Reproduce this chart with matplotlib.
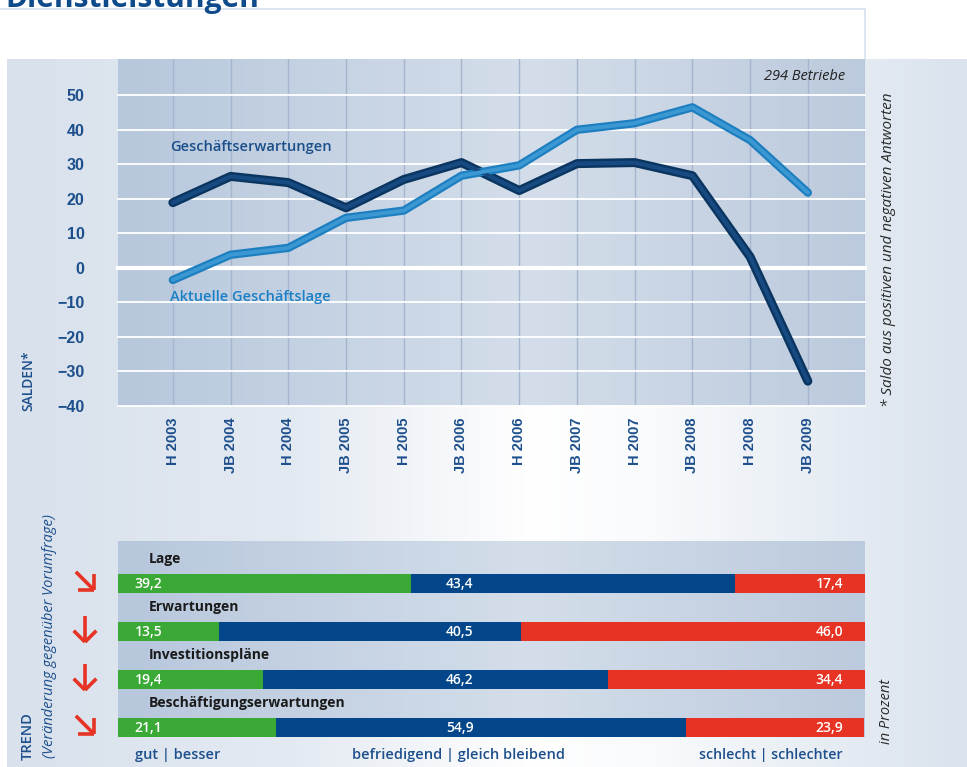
import numpy as np
import matplotlib
matplotlib.use("Agg")
import matplotlib.pyplot as plt
from matplotlib.colors import LinearSegmentedColormap

# Zeitpunkte der Umfragen
perioden = ["H 2003", "JB 2004", "H 2004", "JB 2005", "H 2005", "JB 2006",
            "H 2006", "JB 2007", "H 2007", "JB 2008", "H 2008", "JB 2009"]
# Salden
erwartungen = [18.9, 26.5, 24.7, 17.4, 25.6, 30.5, 22.4, 30.2, 30.5, 26.7, 3.2, -32.8]
lage_aktuell = [-3.5, 3.8, 5.8, 14.5, 16.6, 26.7, 29.7, 40.0, 41.9, 46.5, 37.0, 21.8]
y_ticks = [50, 40, 30, 20, 10, 0, -10, -20, -30, -40]

# Trend-Balken in Prozent
kategorien = ["Lage", "Erwartungen", "Investitionspläne", "Beschäftigungserwartungen"]
gut = [39.2, 13.5, 19.4, 21.1]
befriedigend = [43.4, 40.5, 46.2, 54.9]
schlecht = [17.4, 46.0, 34.4, 23.9]
trend = ["schraeg", "runter", "runter", "schraeg"]

DUNKEL = "#1d4f8c"
GRUEN = "#3aa935"
BLAU = "#03478a"
ROT = "#e63323"
LABEL_FONT = ["Open Sans", "DejaVu Sans"]
TICK_FONT = ["Liberation Sans", "DejaVu Sans"]

W, H = 967, 767
fig = plt.figure(figsize=(W / 100, H / 100), dpi=100)
fig.patch.set_facecolor("white")


def fx(px):
    return px / W


def fy(py):
    return 1 - py / H


# Hintergrund in Pixelkoordinaten
bg = fig.add_axes([0, 0, 1, 1])
bg.set_xlim(0, W)
bg.set_ylim(H, 0)
bg.axis("off")

cm_aussen = LinearSegmentedColormap.from_list(
    "aussen", [(0, "#d8e1ec"), (0.3, "#e4eaf2"), (0.55, "#ffffff"),
               (0.68, "#f8fafc"), (1, "#d9e2ed")])
bg.imshow(np.linspace(0, 1, 256)[None, :], cmap=cm_aussen, aspect="auto",
          extent=(7, W, H, 59), zorder=0)

# Titel, oben abgeschnitten wie im Original
bg.text(5, 7, "Dienstleistungen", fontsize=21.5, fontweight="bold", color="#0f4a8a",
        family=LABEL_FONT, va="baseline", ha="left", zorder=2)
bg.plot([0, 865], [8.5, 8.5], color="#d6e1ee", lw=1.2, zorder=1)
bg.plot([865, 865], [8.5, 59], color="#d6e1ee", lw=1.2, zorder=1)

cm_flaeche = LinearSegmentedColormap.from_list(
    "flaeche", [(0, "#b7c7dc"), (0.55, "#d4deea"), (1, "#bccadd")])

# Liniendiagramm
ax = fig.add_axes([fx(118), fy(406), fx(865) - fx(118), fy(59) - fy(406)])
x = np.arange(len(perioden))
ax.set_xlim(-0.95, 11.99)
ax.set_ylim(-40, 60.5)
ax.imshow(np.linspace(0, 1, 256)[None, :], cmap=cm_flaeche, aspect="auto",
          extent=(-0.95, 11.99, -40, 60.5), zorder=0)
for xv in list(x) + [11.99]:
    ax.axvline(xv, color="#a3b5cf", lw=1, zorder=1)
for yv in y_ticks:
    ax.axhline(yv, color="white", lw=3 if yv == 0 else 1.3, zorder=2, clip_on=False)

stil = dict(solid_capstyle="round", solid_joinstyle="round")
ax.plot(x, erwartungen, color="#0a3560", lw=6.5, zorder=4, **stil)
ax.plot(x, erwartungen, color="#164a80", lw=3, zorder=5, **stil)
ax.plot(x, lage_aktuell, color="#1e7fc0", lw=6, zorder=4, **stil)
ax.plot(x, lage_aktuell, color="#3b98d3", lw=2.8, zorder=5, **stil)

ax.text(-0.05, 34.9, "Geschäftserwartungen", color="#1a4f8a", fontsize=10.5,
        fontweight="semibold", family=LABEL_FONT, va="center", ha="left", zorder=6)
ax.text(-0.05, -8.5, "Aktuelle Geschäftslage", color="#1b7fc4", fontsize=10.5,
        fontweight="semibold", family=LABEL_FONT, va="center", ha="left", zorder=6)
ax.text(11.65, 55.5, "294 Betriebe", color="#222222", fontsize=10.5, style="italic",
        family=LABEL_FONT, va="center", ha="right", zorder=6)

ax.set_yticks(y_ticks)
ax.set_yticklabels([str(v).replace("-", "\u2212") for v in y_ticks])
ax.set_xticks(x)
ax.set_xticklabels(perioden, rotation=90, va="top", ha="center")
ax.tick_params(axis="y", length=0, pad=24, labelsize=11.5, labelcolor=DUNKEL)
ax.tick_params(axis="x", length=0, pad=8, labelsize=10.5, labelcolor=DUNKEL)
for lbl in ax.get_yticklabels():
    lbl.set_fontweight("bold")
    lbl.set_family(TICK_FONT)
for lbl in ax.get_xticklabels():
    lbl.set_fontweight("bold")
    lbl.set_family(TICK_FONT)
for s in ax.spines.values():
    s.set_visible(False)

bg.text(28, 381, "SALDEN*", rotation=90, color=DUNKEL, fontsize=10, fontweight="semibold",
        family=LABEL_FONT, va="center", ha="center", zorder=2)
bg.text(888, 250, "* Saldo aus positiven und negativen Antworten", rotation=90,
        color="#2a2a2a", fontsize=11, style="italic", family=LABEL_FONT,
        va="center", ha="center", zorder=2)

# Trend-Balken
axb = fig.add_axes([fx(118), fy(737), fx(865) - fx(118), fy(541) - fy(737)])
axb.set_xlim(0, 100)
axb.set_ylim(0, 196)
axb.axis("off")
axb.imshow(np.linspace(0, 1, 256)[None, :], cmap=cm_flaeche, aspect="auto",
           extent=(0, 100, 0, 196), zorder=0)
n = len(kategorien)
unten = [(n - 1 - i) * 48 for i in range(n)]
hoehe = 19
axb.barh(unten, gut, height=hoehe, align="edge", color=GRUEN, zorder=2)
axb.barh(unten, befriedigend, left=gut, height=hoehe, align="edge", color=BLAU, zorder=2)
links_rot = [g + b for g, b in zip(gut, befriedigend)]
axb.barh(unten, schlecht, left=links_rot, height=hoehe, align="edge", color=ROT, zorder=2)

for i, name in enumerate(kategorien):
    yb = unten[i]
    ym = yb + hoehe / 2
    axb.text(4.1, yb + hoehe + 14.5, name, fontsize=10, fontweight="bold",
             color="#1a1a1a", family=LABEL_FONT, va="center", ha="left", zorder=3)
    axb.text(2.2, ym, f"{gut[i]:.1f}".replace(".", ","), fontsize=10, color="white",
             fontweight="semibold", family=LABEL_FONT, va="center", ha="left", zorder=3)
    axb.text(47.6, ym, f"{befriedigend[i]:.1f}".replace(".", ","), fontsize=10,
             fontweight="semibold", color="white", family=LABEL_FONT, va="center",
             ha="right", zorder=3)
    axb.text(97.1, ym, f"{schlecht[i]:.1f}".replace(".", ","), fontsize=10,
             fontweight="semibold", color="white", family=LABEL_FONT, va="center",
             ha="right", zorder=3)

    # Trendpfeil links: Schaft plus zwei Schenkel
    cx, cy = 85, 737 - ym - 2.5
    d = np.array([0.0, 1.0]) if trend[i] == "runter" else np.array([1.0, 1.0]) / np.sqrt(2)
    spitze = np.array([cx, cy]) + d * 13
    anfang = np.array([cx, cy]) - d * 13
    bg.plot([anfang[0], spitze[0]], [anfang[1], spitze[1]], color=ROT, lw=2.6,
            solid_capstyle="butt", zorder=3)
    for w in (np.pi / 4, -np.pi / 4):
        r = np.array([[np.cos(w), -np.sin(w)], [np.sin(w), np.cos(w)]]) @ (-d)
        ende = spitze + r * 16
        bg.plot([ende[0], spitze[0]], [ende[1], spitze[1]], color=ROT, lw=2.6,
                solid_capstyle="butt", solid_joinstyle="miter", zorder=3)

bg.text(135, 755, "gut | besser", fontsize=10.5, color=DUNKEL, family=LABEL_FONT,
        fontweight="semibold", va="center", ha="left", zorder=2)
bg.text(459, 755, "befriedigend | gleich bleibend", fontsize=10.5, color=DUNKEL,
        fontweight="semibold", family=LABEL_FONT, va="center", ha="center", zorder=2)
bg.text(843, 755, "schlecht | schlechter", fontsize=10.2, color=DUNKEL,
        fontweight="semibold", family=LABEL_FONT, va="center", ha="right", zorder=2)

bg.text(28, 736, "TREND", rotation=90, color=DUNKEL, fontsize=10.5, fontweight="semibold",
        family=LABEL_FONT, va="center", ha="center", zorder=2)
bg.text(50, 636, "(Veränderung gegenüber Vorumfrage)", rotation=90, color=DUNKEL,
        fontsize=10.5, style="italic", family=LABEL_FONT, va="center", ha="center", zorder=2)
bg.text(887, 711, "in Prozent", rotation=90, color="#2a2a2a", fontsize=10.5,
        style="italic", family=LABEL_FONT, va="center", ha="center", zorder=2)

fig.savefig("out.png", dpi=100)
